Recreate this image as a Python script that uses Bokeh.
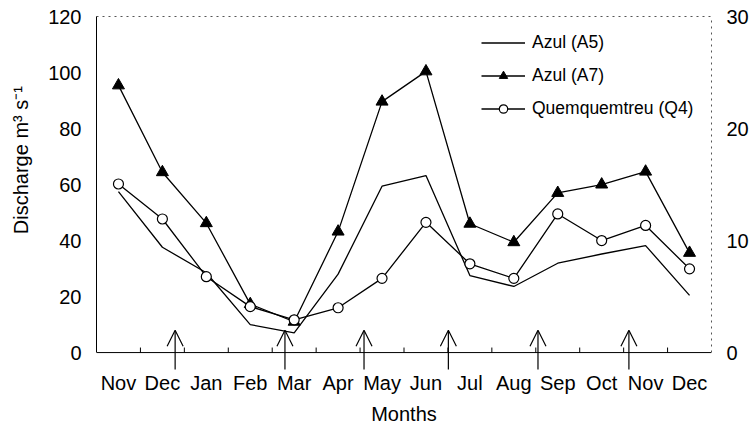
from bokeh.plotting import figure
from bokeh.models import (Range1d, LinearAxis, FixedTicker, Arrow, OpenHead,
                          Legend, LegendItem)
from bokeh.embed import file_html
from bokeh.resources import INLINE

# ---- data ----
months = ["Nov", "Dec", "Jan", "Feb", "Mar", "Apr", "May", "Jun",
          "Jul", "Aug", "Sep", "Oct", "Nov", "Dec"]
azul_a5 = [57.5, 37.6, 28.5, 10.0, 7.0, 28.0, 59.4, 63.2, 27.5, 23.6, 31.9, 35.2, 38.2, 20.4]
azul_a7 = [95.4, 64.4, 46.2, 17.3, 11.0, 43.2, 89.6, 100.4, 46.0, 39.4, 57.0, 60.0, 64.6, 35.6]
quem_q4 = [60.2, 47.7, 27.1, 16.4, 11.7, 16.0, 26.5, 46.5, 31.7, 26.5, 49.5, 40.0, 45.4, 29.9]
arrow_pos = [1.29, 3.79, 5.59, 7.51, 9.55, 11.62]
arrow_tip = 8.0
arrow_base = -6.0
left_ticks = [0, 20, 40, 60, 80, 100, 120]
right_ticks = [0, 10, 20, 30]
y_min, y_max = -6.4, 120
right_scale = 4.0
y_label = "Discharge m\u00b3 s\u207b\u00b9"

FONT = "Liberation Sans"
x = list(range(len(months)))
x_lo, x_hi = -0.5, len(months) - 0.5

p = figure(width=751, height=433, output_backend="svg", toolbar_location=None,
           x_range=Range1d(x_lo, x_hi), y_range=Range1d(y_min, y_max),
           x_axis_type=None, y_axis_type=None,
           min_border_left=96, min_border_right=38, min_border_top=16, min_border_bottom=63)
p.outline_line_color = None
p.background_fill_color = "white"
p.border_fill_color = "white"
p.extra_y_ranges = {"right": Range1d(y_min / right_scale, y_max / right_scale)}

def style_axis(ax):
    ax.major_tick_in = 0
    ax.major_tick_out = 0
    ax.minor_tick_in = 0
    ax.minor_tick_out = 0
    ax.major_label_text_font = FONT
    ax.major_label_text_font_size = "20px"
    ax.major_label_text_color = "black"
    ax.axis_label_text_font = FONT
    ax.axis_label_text_font_size = "20px"
    ax.axis_label_text_font_style = "normal"
    ax.axis_label_text_color = "black"

yl = LinearAxis(ticker=FixedTicker(ticks=left_ticks), bounds=(0, y_max))
style_axis(yl)
yl.major_label_standoff = 15
yl.axis_line_color = "black"
# leading no-break spaces lift the label above the frame's centre, as in the reference
yl.axis_label = "\u00a0" * 12 + y_label
yl.axis_label_standoff = 13
p.add_layout(yl, "left")

yr = LinearAxis(y_range_name="right", ticker=FixedTicker(ticks=right_ticks),
                bounds=(0, y_max / right_scale))
style_axis(yr)
yr.major_label_standoff = 15
yr.axis_line_color = "#555555"
yr.axis_line_dash = "dotted"
p.add_layout(yr, "right")

xb = LinearAxis(ticker=FixedTicker(ticks=x),
                major_label_overrides={i: m for i, m in enumerate(months)})
style_axis(xb)
xb.axis_line_color = None
xb.major_label_standoff = 1
xb.axis_label = "Months"
xb.axis_label_standoff = 6
p.add_layout(xb, "below")

xt = LinearAxis(ticker=FixedTicker(ticks=[]))
style_axis(xt)
xt.major_label_text_font_size = "0px"
xt.axis_line_color = "#555555"
xt.axis_line_dash = "dotted"
p.add_layout(xt, "above")

# bottom axis line at zero and small ticks between months
p.segment(x0=[x_lo], y0=[0], x1=[x_hi], y1=[0], line_color="black", line_width=1)
bounds = [i + 0.5 for i in x[:-1]]
p.segment(x0=bounds, y0=[0] * len(bounds), x1=bounds, y1=[1.8] * len(bounds),
          line_color="black", line_width=1)

# arrows
for ax_ in arrow_pos:
    p.add_layout(Arrow(x_start=ax_, y_start=arrow_base, x_end=ax_, y_end=arrow_tip,
                       line_color="black", line_width=1.2,
                       end=OpenHead(size=16, line_width=1.2, line_color="black")))

# series
l1 = p.line(x, azul_a5, line_color="black", line_width=1.3)
l2 = p.line(x, azul_a7, line_color="black", line_width=1.3)
m2 = p.scatter(x, azul_a7, marker="triangle", size=12, fill_color="black", line_color="black")
l3 = p.line(x, quem_q4, line_color="black", line_width=1.3)
m3 = p.scatter(x, quem_q4, marker="circle", size=10, fill_color="white", line_color="black", line_width=1.2)

legend = Legend(items=[LegendItem(label="Azul (A5)", renderers=[l1]),
                       LegendItem(label="Azul (A7)", renderers=[l2, m2]),
                       LegendItem(label="Quemquemtreu (Q4)", renderers=[l3, m3])],
                location=(385, 251.5), padding=0, margin=0, border_line_color=None,
                background_fill_alpha=0, glyph_width=44, glyph_height=21, label_height=21,
                spacing=12, label_standoff=7, label_text_font=FONT,
                label_text_font_size="17.5px", label_text_color="black")
p.add_layout(legend)

open("out.html", "w").write(file_html(p, INLINE))
